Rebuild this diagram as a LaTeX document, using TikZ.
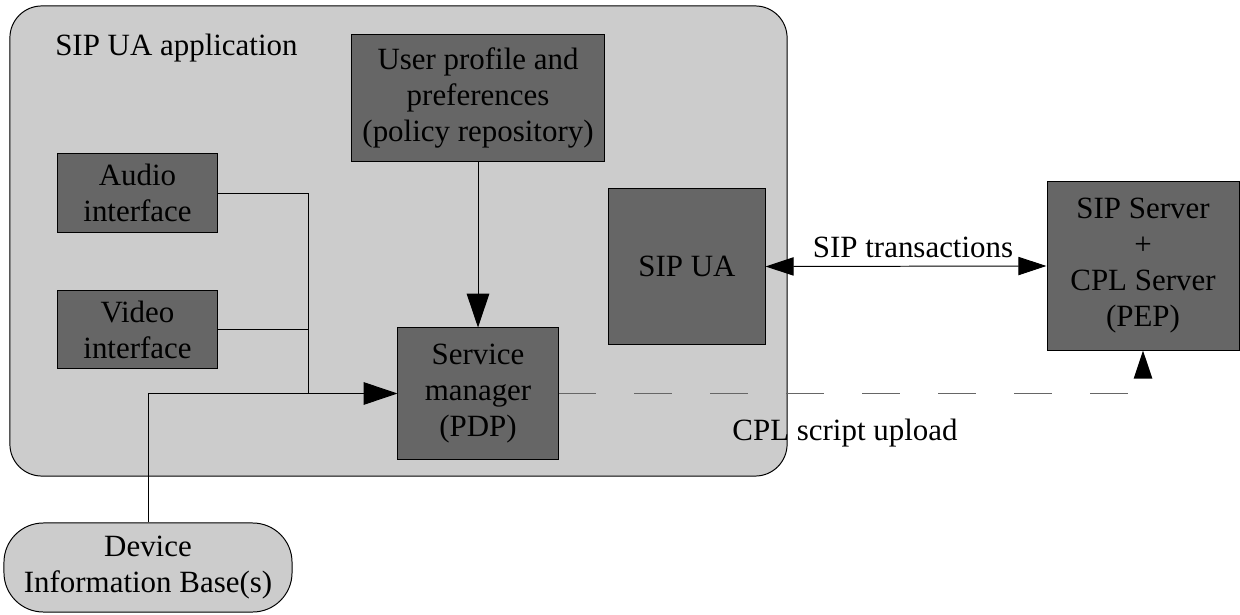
\documentclass[tikz,border=0pt]{standalone}
\usepackage{fontspec}
\setmainfont{Liberation Serif}
\newfontfamily\timesfont{Liberation Serif}
\usetikzlibrary{arrows.meta}
\definecolor{appfill}{HTML}{CCCCCC}
\definecolor{boxfill}{HTML}{666666}
\definecolor{dashgray}{HTML}{666666}
\tikzset{
  every node/.style={font=\timesfont\fontsize{22}{25.6}\selectfont, inner sep=0pt},
  darkbox/.style={draw=black, line width=0.7pt, fill=boxfill, align=center, rectangle},
  lightbox/.style={draw=black, line width=0.7pt, fill=appfill, align=center, rectangle},
  conn/.style={draw=black, line width=0.7pt},
  bigtip/.style={-{Triangle[length=24pt,width=16pt]}},
  smalltip/.style={-{Triangle[length=20pt,width=13pt,color=black]}},
  dashline/.style={draw=dashgray, line width=1.3pt, dash pattern=on 27pt off 27pt},
}
\begin{document}
\begin{tikzpicture}[x=0.025cm, y=-0.025cm]
\useasboundingbox (0,0) rectangle (1240,615);
% application container
\node[lightbox, rounded corners=22.7pt, minimum width=19.425cm, minimum height=11.75cm] (app) at (398.5,241) {};
\node[anchor=west] (applabel) at (55,48) {SIP UA application};
% boxes
\node[darkbox, minimum width=6.3cm, minimum height=3.15cm] (user) at (478,98) {User profile and\\preferences\\(policy repository)};
\node[darkbox, minimum width=3.975cm, minimum height=1.95cm] (audio) at (137.5,193) {Audio\\interface};
\node[darkbox, minimum width=3.975cm, minimum height=1.925cm] (video) at (137.5,329.5) {Video\\interface};
\node[darkbox, minimum width=4.0cm, minimum height=3.275cm] (sm) at (478,393.5) {Service\\manager\\(PDP)};
\node[darkbox, minimum width=3.9cm, minimum height=3.875cm] (sipua) at (687,266.5) {SIP UA};
\node[darkbox, minimum width=4.8cm, minimum height=4.2cm] (server) at (1143,266) {SIP Server\\+\\CPL Server\\(PEP)};
\node[lightbox, rounded corners=28pt, minimum width=7.2cm, minimum height=2.225cm] (dib) at (148,567.5) {Device\\Information Base(s)};
% junction
\coordinate (j) at (308,393.5);
% connectors
\draw[conn] (audio.east) -| (j);
\draw[conn] (video.east) -| (j);
\draw[conn] (dib.north) |- (j);
\draw[conn, bigtip] (j) -- (sm.west);
\draw[conn, bigtip] (user.south) -- (sm.north);
\draw[conn, {Triangle[length=20pt,width=13pt]}-{Triangle[length=20pt,width=13pt]}] (sipua.east) -- (server.west) node[midway, above=6pt, xshift=5pt] (siptx) {SIP transactions};
\draw[dashline, smalltip] (sm.east) -| (server.south);
\node (cpl) at (845,433) {CPL script upload};
\end{tikzpicture}
\end{document}
